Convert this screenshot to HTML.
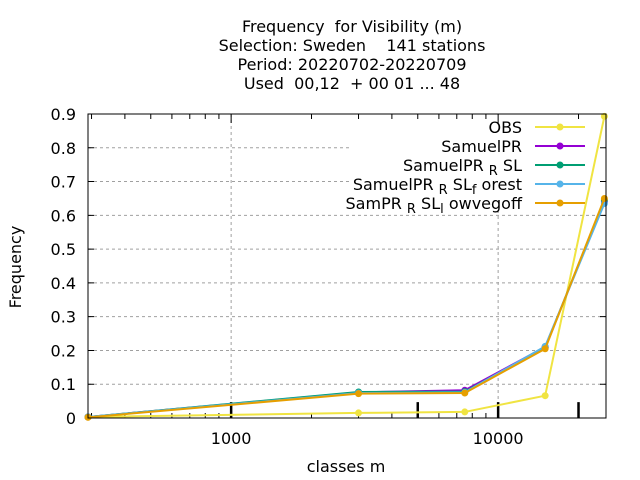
<!DOCTYPE html>
<html><head><meta charset="utf-8"><style>
body{margin:0;background:#fff}
svg{display:block;font-family:"DejaVu Sans","Liberation Sans",sans-serif}
text{white-space:pre}
</style></head><body>
<svg id="chart" width="640" height="480">
<rect width="640" height="480" fill="#fff"/>
<g font-size="16" text-anchor="middle" fill="#000">
<text x="352" y="32">Frequency  for Visibility (m)</text>
<text x="352" y="51">Selection: Sweden    141 stations</text>
<text x="352" y="70">Period: 20220702-20220709</text>
<text x="352" y="89">Used  00,12  + 00 01 ... 48</text>
</g>
<g id="grid"></g>
<rect x="350" y="115" width="255" height="96" fill="#fff"/>
<g id="ticks"></g>
<g id="series"></g>
<g id="legend"></g>
<rect x="88" y="114" width="518" height="304" fill="none" stroke="#000" stroke-width="1"/>
<text x="346" y="472" font-size="16" text-anchor="middle">classes m</text>
<text transform="translate(21,267) rotate(-90)" font-size="16" text-anchor="middle">Frequency</text>
</svg>
<script>
const xCats=[291,3000,7500,15000,25000];
const obs=[0.003,0.015,0.018,0.066,0.893];
const samuelPR=[0.003,0.076,0.082,0.21,0.64];
const samuelPRRSL=[0.003,0.077,0.078,0.208,0.645];
const samuelPRRSLforest=[0.003,0.074,0.076,0.212,0.635];
const samPRRSLlowvegoff=[0.002,0.072,0.074,0.205,0.65];
const yTicks=[0,0.1,0.2,0.3,0.4,0.5,0.6,0.7,0.8,0.9];
const yTickLabels=["0","0.1","0.2","0.3","0.4","0.5","0.6","0.7","0.8","0.9"];
const xMajor=[1000,10000];
const xMajorLabels=["1000","10000"];
const classBounds=[1000,5000,10000,20000];
const seriesNames=["OBS","SamuelPR","SamuelPR <tspan dy='4' font-size='13'>R</tspan><tspan dy='-4'> SL</tspan>","SamuelPR <tspan dy='4' font-size='13'>R</tspan><tspan dy='-4'> SL</tspan><tspan dy='4' font-size='13'>f</tspan><tspan dy='-4'> orest</tspan>","SamPR <tspan dy='4' font-size='13'>R</tspan><tspan dy='-4'> SL</tspan><tspan dy='4' font-size='13'>l</tspan><tspan dy='-4'> owvegoff</tspan>"];
const seriesData=[obs,samuelPR,samuelPRRSL,samuelPRRSLforest,samPRRSLlowvegoff];
const colors=["#f0e442","#9400d3","#009e73","#56b4e9","#e69f00"];
const X0=88,X1=606,Y0=418,Y1=114,XMIN=291,XMAX=25350,YMAX=0.9;
const sx=v=>X0+(Math.log10(v)-Math.log10(XMIN))/(Math.log10(XMAX)-Math.log10(XMIN))*(X1-X0);
const sy=v=>Y0-v/YMAX*(Y0-Y1);
const NS="http://www.w3.org/2000/svg";
function mk(tag,attrs,parent){const e=document.createElementNS(NS,tag);for(const k in attrs)e.setAttribute(k,attrs[k]);parent.appendChild(e);return e;}
const grid=document.getElementById('grid'),ticks=document.getElementById('ticks'),ser=document.getElementById('series'),leg=document.getElementById('legend');
yTicks.forEach((t,i)=>{
  const y=sy(t);
  if(t>0&&t<YMAX){const g=mk('line',{x1:X0,x2:X1,y1:y,y2:y,stroke:'#a0a0a0','stroke-dasharray':'3,3'},grid);
  
  }
  const tk=mk('path',{d:`M${X0} ${y}h6M${X1} ${y}h-6`,stroke:'#000'},ticks);
  
  
  const tx=mk('text',{x:76,y:y+6,'font-size':16,'text-anchor':'end'},ticks);
  tx.textContent=yTickLabels[i];
  
  
});
xMajor.forEach((t,i)=>{
  const x=sx(t);
  const g=mk('line',{x1:x,x2:x,y1:Y1,y2:Y0,stroke:'#a0a0a0','stroke-dasharray':'3,3'},grid);
  
  
  const tx=mk('text',{x:x,y:444,'font-size':16,'text-anchor':'middle'},ticks);
  tx.textContent=xMajorLabels[i];
  
  
});
for(let d=100;d<=10000;d*=10){for(let m=1;m<10;m++){const v=d*m;if(v<XMIN||v>XMAX)continue;const x=sx(v);const L=m===1?9:5;
  const tk=mk('path',{d:`M${x} ${Y0}v-${L}M${x} ${Y1}v${L}`,stroke:'#000'},ticks);
  
  }}
classBounds.forEach(b=>{const x=sx(b);
  const l=mk('line',{x1:x,x2:x,y1:Y0,y2:sy(0.047),stroke:'#000','stroke-width':2.5},ticks);
  
  });
seriesData.forEach((d,si)=>{
  const g=mk('g',{},ser);
  
  
  mk('polyline',{points:d.map((v,i)=>sx(xCats[i])+','+sy(v)).join(' '),fill:'none',stroke:colors[si],'stroke-width':2},g);
  d.forEach((v,i)=>{const c=mk('circle',{cx:sx(xCats[i]),cy:sy(v),r:3.5,fill:colors[si]},g);
    
    });
});
seriesNames.forEach((n,i)=>{
  const y=127+i*19;
  const g=mk('g',{},leg);
  
  
  const t=mk('text',{x:522,y:y+6,'font-size':16,'text-anchor':'end'},g);t.innerHTML=n;
  mk('line',{x1:535,x2:585,y1:y,y2:y,stroke:colors[i],'stroke-width':2},g);
  mk('circle',{cx:560,cy:y,r:3.5,fill:colors[i]},g);
});
</script>
</body></html>
